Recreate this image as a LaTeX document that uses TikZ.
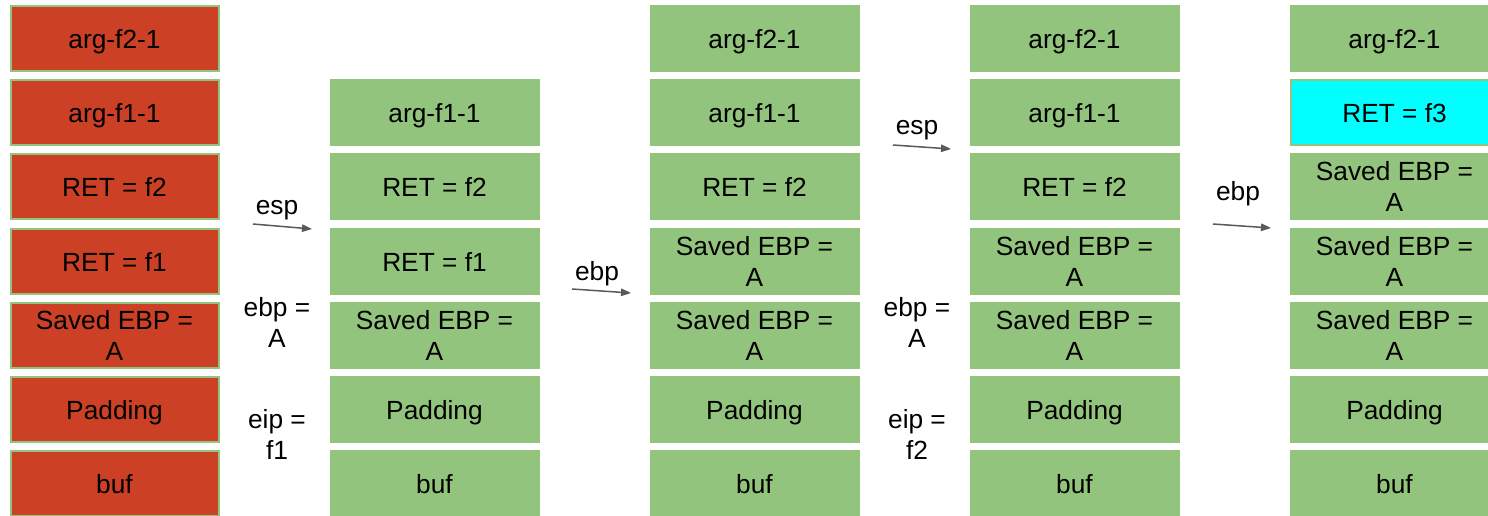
\documentclass[tikz,border=0pt]{standalone}
\usepackage{fontspec}
\setmainfont{Liberation Sans}
\usetikzlibrary{arrows.meta}
\definecolor{cellgreen}{HTML}{93C47D}
\definecolor{cellred}{HTML}{CC4125}
\definecolor{cellcyan}{HTML}{00FFFF}
\definecolor{arrowgrey}{HTML}{595959}
\tikzset{
  cellbase/.style={draw=cellgreen, line width=2pt, fill=cellgreen, minimum width=208pt, minimum height=65pt,
    inner sep=0pt, align=center, font=\fontsize{26.3}{31}\selectfont, text=black},
  cell/.style={cellbase, text height=24pt, text depth=4pt},
  cell2/.style={cellbase},
  redcell/.style={cell, fill=cellred},
  redcell2/.style={cell2, fill=cellred},
  cyancell/.style={cell, fill=cellcyan},
  lbl/.style={align=center, font=\fontsize{26.3}{31}\selectfont, inner sep=0pt},
  ptr/.style={draw=arrowgrey, line width=1.5pt, -{Triangle[length=10pt,width=7.5pt]}}
}
\begin{document}
\begin{tikzpicture}[x=1pt,y=-1pt]
\useasboundingbox (0,0) rectangle (1488,516);
\clip (0,0) rectangle (1488,516);
% column 0
\node[redcell] (a0) at (114.5,38.5) {arg-f2-1};
\node[redcell] (a1) at (114.5,112.7) {arg-f1-1};
\node[redcell] (a2) at (114.5,186.9) {RET = f2};
\node[redcell] (a3) at (114.5,261.1) {RET = f1};
\node[redcell2] (a4) at (114.5,335.3) {Saved EBP =\\A};
\node[redcell] (a5) at (114.5,409.5) {Padding};
\node[redcell] (a6) at (114.5,483.7) {buf};
% column 1
\node[cell] (b1) at (434.5,112.7) {arg-f1-1};
\node[cell] (b2) at (434.5,186.9) {RET = f2};
\node[cell] (b3) at (434.5,261.1) {RET = f1};
\node[cell2] (b4) at (434.5,335.3) {Saved EBP =\\A};
\node[cell] (b5) at (434.5,409.5) {Padding};
\node[cell] (b6) at (434.5,483.7) {buf};
% column 2
\node[cell] (c0) at (754.5,38.5) {arg-f2-1};
\node[cell] (c1) at (754.5,112.7) {arg-f1-1};
\node[cell] (c2) at (754.5,186.9) {RET = f2};
\node[cell2] (c3) at (754.5,261.1) {Saved EBP =\\A};
\node[cell2] (c4) at (754.5,335.3) {Saved EBP =\\A};
\node[cell] (c5) at (754.5,409.5) {Padding};
\node[cell] (c6) at (754.5,483.7) {buf};
% column 3
\node[cell] (d0) at (1074.5,38.5) {arg-f2-1};
\node[cell] (d1) at (1074.5,112.7) {arg-f1-1};
\node[cell] (d2) at (1074.5,186.9) {RET = f2};
\node[cell2] (d3) at (1074.5,261.1) {Saved EBP =\\A};
\node[cell2] (d4) at (1074.5,335.3) {Saved EBP =\\A};
\node[cell] (d5) at (1074.5,409.5) {Padding};
\node[cell] (d6) at (1074.5,483.7) {buf};
% column 4
\node[cell] (e0) at (1394.5,38.5) {arg-f2-1};
\node[cyancell] (e1) at (1394.5,112.7) {RET = f3};
\node[cell2] (e2) at (1394.5,186.9) {Saved EBP =\\A};
\node[cell2] (e3) at (1394.5,261.1) {Saved EBP =\\A};
\node[cell2] (e4) at (1394.5,335.3) {Saved EBP =\\A};
\node[cell] (e5) at (1394.5,409.5) {Padding};
\node[cell] (e6) at (1394.5,483.7) {buf};
% pointer labels and arrows
\node[lbl] (l1) at (277,210) {esp};
\coordinate (s1) at (253,224);
\coordinate (t1) at (312,229);
\draw[ptr] (s1) -- (t1);
\node[lbl] (r1) at (277,322) {ebp =\\A};
\node[lbl] (q1) at (277,434) {eip =\\f1};

\node[lbl] (l2) at (597,274) {ebp};
\coordinate (s2) at (572,289);
\coordinate (t2) at (631,293);
\draw[ptr] (s2) -- (t2);

\node[lbl] (l3) at (917,130) {esp};
\coordinate (s3) at (893,145);
\coordinate (t3) at (951,149);
\draw[ptr] (s3) -- (t3);
\node[lbl] (r3) at (917,322) {ebp =\\A};
\node[lbl] (q3) at (917,434) {eip =\\f2};

\node[lbl] (l4) at (1238,194) {ebp};
\coordinate (s4) at (1213,224);
\coordinate (t4) at (1271,228);
\draw[ptr] (s4) -- (t4);
\end{tikzpicture}
\end{document}
